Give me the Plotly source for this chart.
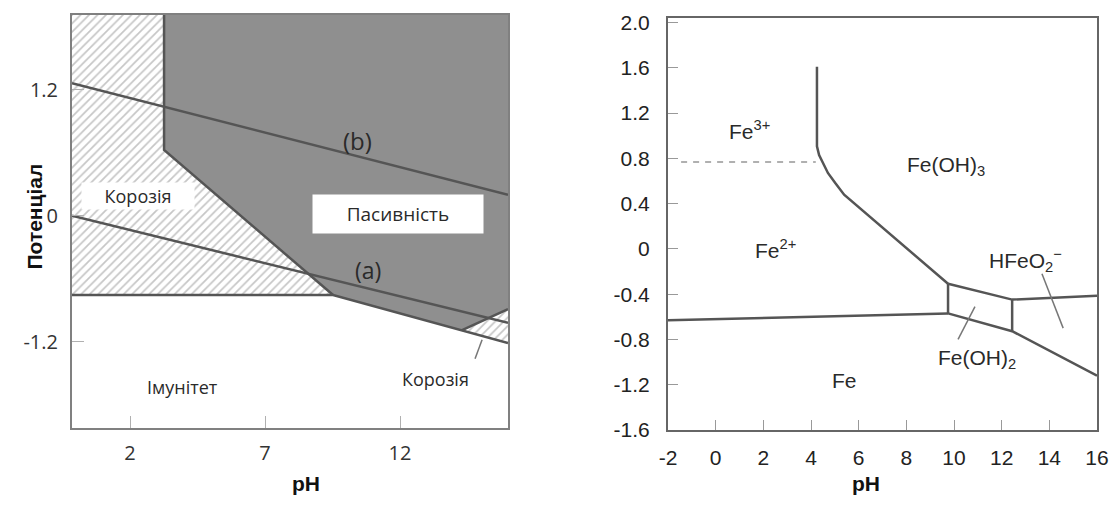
import plotly.graph_objects as go

# page has an 8px body margin; figure fills the rest of the 1117x511 window
OFF = 8
W, H = 1117 - OFF, 511 - OFF


def fx(px):
    return (px - OFF) / W


def fy(py):
    return 1 - (py - OFF) / H


# ---------------- Left panel (Pourbaix regions: corrosion / passivity / immunity) ----------------
L_XRANGE = [-0.15, 16.0]
L_YRANGE = [-2.02, 1.91]
left_xticks = [2, 7, 12]
left_yticks = [-1.2, 0, 1.2]
left_yticktext = ["-1.2", "0", "1.2"]

# passivity region (dark)
passive_ph = [3.26, 3.26, 9.52, 14.30, 16.0, 16.0]
passive_e = [1.91, 0.626, -0.755, -1.089, -0.889, 1.91]
# corrosion region, acidic side (hatched)
corr_acid_ph = [-0.15, 3.26, 3.26, 9.52, -0.15]
corr_acid_e = [1.91, 1.91, 0.626, -0.755, -0.755]
# corrosion region, alkaline side (hatched)
corr_alk_ph = [14.30, 16.0, 16.0]
corr_alk_e = [-1.089, -0.889, -1.212]

# boundary lines
passive_edge_ph = [3.26, 3.26, 9.52]
passive_edge_e = [1.91, 0.626, -0.755]
immune_edge_ph = [-0.15, 9.52, 16.0]
immune_edge_e = [-0.755, -0.755, -1.212]
alk_edge_ph = [14.30, 16.0]
alk_edge_e = [-1.089, -0.889]
line_a_ph = [-0.15, 16.0]
line_a_e = [0.0, -1.02]
line_b_ph = [-0.15, 16.0]
line_b_e = [1.26, 0.20]
left_pointer_ph = [15.04, 14.78]
left_pointer_e = [-1.18, -1.36]

left_labels = [
    ("Корозія", 2.30, 0.19, 18, True, 110, 24),
    ("Пасивність", 11.93, 0.016, 19, True, 168, 36),
    ("(b)", 10.44, 0.72, 24, False, None, None),
    ("(a)", 10.81, -0.52, 23, False, None, None),
    ("Імунітет", 3.93, -1.63, 18, False, None, None),
    ("Корозія", 13.30, -1.55, 18, False, None, None),
]

# ---------------- Right panel (Fe Pourbaix diagram) ----------------
R_XRANGE = [-2, 16]
R_YRANGE = [-1.6, 2.04]
right_xticks = [-2, 0, 2, 4, 6, 8, 10, 12, 14, 16]
right_xticktext = ["-2", "0", "2", "4", "6", "8", "10", "12", "14", "16"]
right_yticks = [-1.6, -1.2, -0.8, -0.4, 0, 0.4, 0.8, 1.2, 1.6, 2.0]
right_yticktext = ["-1.6", "-1.2", "-0.8", "-0.4", "0", "0.4", "0.8", "1.2", "1.6", "2.0"]

fe3_fe2_ph = [4.25, 4.25, 4.34, 4.50, 4.71, 5.01, 5.39, 9.75]
fe3_fe2_e = [1.61, 0.907, 0.829, 0.759, 0.671, 0.584, 0.479, -0.308]
fe_line_ph = [-2, 9.75]
fe_line_e = [-0.631, -0.570]
box_left_ph = [9.75, 9.75]
box_left_e = [-0.308, -0.570]
upper_ph = [9.75, 12.44, 16]
upper_e = [-0.308, -0.448, -0.413]
box_right_ph = [12.44, 12.44]
box_right_e = [-0.448, -0.727]
lower_ph = [9.75, 12.44, 16]
lower_e = [-0.570, -0.727, -1.12]
dash_ph = [-1.45, 4.2]
dash_e = [0.767, 0.767]
ptr_hfeo2_ph = [13.69, 14.58]
ptr_hfeo2_e = [-0.22, -0.70]
ptr_feoh2_ph = [10.88, 10.17]
ptr_feoh2_e = [-0.51, -0.80]

right_labels = [
    ("Fe<sup>3+</sup>", 1.44, 1.05),
    ("Fe<sup>2+</sup>", 2.49, 0.0),
    ("Fe(OH)<sub>3</sub>", 9.67, 0.73),
    ("HFeO<sub>2</sub><sup>−</sup>", 12.98, -0.10),
    ("Fe(OH)<sub>2</sub>", 10.97, -0.97),
    ("Fe", 5.39, -1.16),
]

LINE = "#555555"
fig = go.Figure()


def poly(xs, ys, xa, ya, **kw):
    fig.add_trace(go.Scatter(x=xs, y=ys, xaxis=xa, yaxis=ya, mode="lines",
                             fill="toself", line=dict(width=0), hoverinfo="skip",
                             showlegend=False, **kw))


def line(xs, ys, xa, ya, color=LINE, width=2.5, dash=None):
    fig.add_trace(go.Scatter(x=xs, y=ys, xaxis=xa, yaxis=ya, mode="lines",
                             line=dict(color=color, width=width, dash=dash),
                             hoverinfo="skip", showlegend=False))


hatch = dict(shape="/", fgcolor="#8e8e8e", bgcolor="white", size=6, solidity=0.28)
poly(corr_acid_ph, corr_acid_e, "x", "y", fillcolor="white", fillpattern=hatch)
poly(corr_alk_ph, corr_alk_e, "x", "y", fillcolor="white", fillpattern=hatch)
poly(passive_ph, passive_e, "x", "y", fillcolor="#8f8f8f")

line(passive_edge_ph, passive_edge_e, "x", "y")
line(immune_edge_ph, immune_edge_e, "x", "y")
line(alk_edge_ph, alk_edge_e, "x", "y")
line(line_a_ph, line_a_e, "x", "y")
line(line_b_ph, line_b_e, "x", "y")
line(left_pointer_ph, left_pointer_e, "x", "y", color="#777777", width=1.5)

line(dash_ph, dash_e, "x2", "y2", color="#b0b0b0", width=2, dash="6px,6px")
line(fe3_fe2_ph, fe3_fe2_e, "x2", "y2")
line(fe_line_ph, fe_line_e, "x2", "y2")
line(box_left_ph, box_left_e, "x2", "y2")
line(upper_ph, upper_e, "x2", "y2")
line(box_right_ph, box_right_e, "x2", "y2")
line(lower_ph, lower_e, "x2", "y2")
line(ptr_hfeo2_ph, ptr_hfeo2_e, "x2", "y2", color="#777777", width=1.5)
line(ptr_feoh2_ph, ptr_feoh2_e, "x2", "y2", color="#777777", width=1.5)

annotations = []
for text, px, py, size, boxed, bw, bh in left_labels:
    a = dict(text=text, x=px, y=py, xref="x", yref="y", showarrow=False,
             font=dict(family="Open Sans", size=size, color="#2a2a2a"))
    if boxed:
        a.update(bgcolor="white", width=bw, height=bh)
    annotations.append(a)
for text, px, py in right_labels:
    annotations.append(dict(text=text, x=px, y=py, xref="x2", yref="y2", showarrow=False,
                            font=dict(family="Liberation Sans", size=21, color="#2a2a2a")))

annotations += [
    dict(text="<b>Потенціал</b>", x=fx(20), y=fy(217), xref="paper", yref="paper",
         showarrow=False, textangle=-90, font=dict(family="Liberation Sans", size=21, color="#111")),
    dict(text="<b>pH</b>", x=fx(290), y=fy(497), xref="paper", yref="paper",
         showarrow=False, font=dict(family="Liberation Sans", size=21, color="#111")),
    dict(text="<b>pH</b>", x=fx(882), y=fy(497), xref="paper", yref="paper",
         showarrow=False, font=dict(family="Liberation Sans", size=21, color="#111")),
]

frame = dict(showline=True, mirror=True, linewidth=2, showgrid=False, zeroline=False,
             ticks="inside", fixedrange=True, automargin=False, ticklabeloverflow="allow")

fig.update_layout(
    width=W, height=H, margin=dict(l=0, r=0, t=0, b=0, pad=0, autoexpand=False),
    paper_bgcolor="white", plot_bgcolor="white", showlegend=False,
    annotations=annotations,
    xaxis=dict(domain=[fx(72), fx(508)], range=L_XRANGE, anchor="y",
               tickvals=left_xticks, ticklen=12, tickcolor="#b0b0b0", linecolor="#808080",
               tickfont=dict(family="Open Sans", size=20, color="#333"), ticklabelstandoff=6, **frame),
    yaxis=dict(domain=[fy(428), fy(15)], range=L_YRANGE, anchor="x",
               tickvals=left_yticks, ticktext=left_yticktext, ticklen=12, tickcolor="#b0b0b0",
               linecolor="#808080",
               tickfont=dict(family="Open Sans", size=20, color="#333"), ticklabelstandoff=8, **frame),
    xaxis2=dict(domain=[fx(668), fx(1097)], range=R_XRANGE, anchor="y2",
                tickvals=right_xticks, ticktext=right_xticktext, ticklen=10, tickcolor="#999",
                linecolor="#666",
                tickfont=dict(family="Liberation Sans", size=21, color="#222"), ticklabelstandoff=8, **frame),
    yaxis2=dict(domain=[fy(430), fy(18)], range=R_YRANGE, anchor="x2",
                tickvals=right_yticks, ticktext=right_yticktext, ticklen=10, tickcolor="#999",
                linecolor="#666",
                tickfont=dict(family="Liberation Sans", size=21, color="#222"), ticklabelstandoff=12, **frame),
)

fig.write_html("out.html")
